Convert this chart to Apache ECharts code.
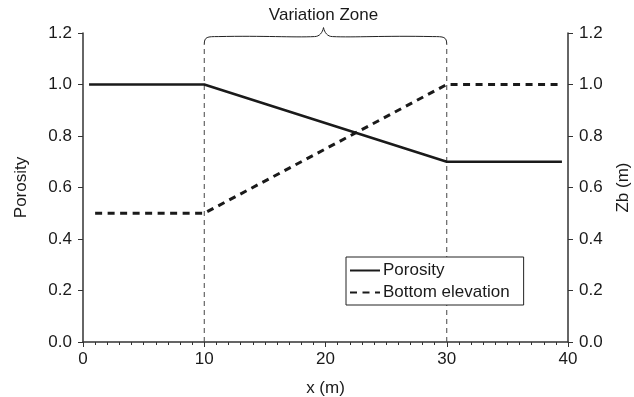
<!DOCTYPE html>
<html>
<head>
<meta charset="utf-8">
<script src="https://cdn.jsdelivr.net/npm/echarts@6/dist/echarts.min.js"></script>
<style>
  html, body { margin: 0; padding: 0; background: #fff; }
  #main { width: 634px; height: 397px; }
</style>
</head>
<body>
<div id="main"></div>
<script>
// x positions (m) and values
const porosityX = [0.5, 10, 30, 39.5]
const porosity = [1.0, 1.0, 0.7, 0.7]
const elevX = [1, 10, 30, 39.5]
const elevation = [0.5, 0.5, 1.0, 1.0]
// variation zone limits
const zoneX = [10, 30]
const zoneTop = 1.155
const yTicks = [0, 0.2, 0.4, 0.6, 0.8, 1.0, 1.2]

const font = 'Liberation Sans, Arial, sans-serif'
const ink = '#1a1a1a'

let myChart = echarts.init(document.getElementById('main'))

const yAxisBase = (pos) => ({
  type: 'value',
  position: pos,
  min: yTicks[0],
  max: yTicks[yTicks.length - 1],
  interval: 0.2,
  nameLocation: 'middle',
  nameTextStyle: { fontFamily: font, fontSize: 17, color: ink },
  axisLine: { show: true, lineStyle: { color: '#333', width: 1.5 } },
  axisTick: { show: true, inside: false, length: 5, lineStyle: { color: '#333' } },
  axisLabel: {
    fontFamily: font, fontSize: 17, color: ink, margin: 11,
    formatter: v => v.toFixed(1)
  },
  splitLine: { show: false }
})

const toPts = (xs, ys) => xs.map((x, i) => [x, ys[i]])

myChart.setOption({
  animation: false,
  grid: { left: 83, right: 66, top: 33, bottom: 55, containLabel: false, outerBoundsMode: 'none' },
  legend: {
    orient: 'vertical',
    left: 346,
    top: 257,
    z: 10,
    data: ['Porosity', 'Bottom elevation'],
    itemWidth: 30,
    itemHeight: 14,
    itemGap: 5,
    padding: [5, 14, 4, 3],
    backgroundColor: '#fff',
    borderColor: '#222',
    borderWidth: 1,
    itemStyle: { opacity: 0 },
    textStyle: { fontFamily: font, fontSize: 17, color: ink, padding: [0, 0, 0, -2] }
  },
  xAxis: {
    type: 'value',
    min: 0, max: 40, interval: 10,
    name: 'x (m)',
    nameLocation: 'middle',
    nameGap: 38,
    nameTextStyle: { fontFamily: font, fontSize: 17, color: ink },
    axisLine: { lineStyle: { color: '#333', width: 1.5 } },
    axisTick: { show: true, length: 5, lineStyle: { color: '#333' } },
    minorTick: { show: true, splitNumber: 10, length: 3, lineStyle: { color: '#333' } },
    axisLabel: { fontFamily: font, fontSize: 17, color: ink, margin: 9 },
    splitLine: { show: false }
  },
  yAxis: [
    Object.assign(yAxisBase('left'), { name: 'Porosity', nameGap: 53 }),
    Object.assign(yAxisBase('right'), { name: 'Zb (m)', nameGap: 47 })
  ],
  series: [
    {
      name: 'Porosity',
      type: 'line',
      data: toPts(porosityX, porosity),
      symbol: 'none',
      lineStyle: { color: ink, width: 2.5 },
      itemStyle: { color: ink },
      z: 5
    },
    {
      name: 'Bottom elevation',
      type: 'line',
      yAxisIndex: 1,
      data: toPts(elevX, elevation),
      symbol: 'none',
      lineStyle: { color: ink, width: 3, type: [7, 5.5] },
      itemStyle: { color: ink },
      z: 5
    },
    // zone boundaries
    ...zoneX.map(x => ({
      name: 'zone' + x,
      type: 'line',
      data: [[x, 0], [x, zoneTop]],
      symbol: 'none',
      clip: false,
      silent: true,
      lineStyle: { color: '#444', width: 1, type: [5, 4] },
      z: 2
    })),
    // curly brace and its label
    {
      name: 'brace',
      type: 'custom',
      data: [[zoneX[0], zoneX[1]]],
      clip: false,
      silent: true,
      renderItem: (params, api) => {
        const L = api.coord([api.value(0), zoneTop])
        const R = api.coord([api.value(1), zoneTop])
        const mx = (L[0] + R[0]) / 2 - 2
        const yE = L[1]
        const yM = yE - 8
        const yT = yE - 17
        const d = [
          'M', L[0], yE,
          'C', L[0], yM, L[0] + 3, yM, L[0] + 14, yM,
          'C', mx - 60, yM - 1, mx - 30, yM + 1, mx - 9, yM,
          'C', mx - 4, yM, mx - 1, yM - 4, mx, yT,
          'C', mx + 1, yM - 4, mx + 4, yM, mx + 9, yM,
          'C', mx + 30, yM + 1, mx + 60, yM - 1, R[0] - 14, yM,
          'C', R[0] - 3, yM, R[0], yM, R[0], yE
        ].join(' ')
        return {
          type: 'group',
          children: [
            {
              type: 'path',
              shape: { pathData: d },
              style: { fill: 'none', stroke: '#222', lineWidth: 1 }
            },
            {
              type: 'text',
              x: mx,
              y: yT - 12,
              style: {
                text: 'Variation Zone',
                fontFamily: font,
                fontSize: 17,
                fill: ink,
                align: 'center',
                verticalAlign: 'middle'
              }
            }
          ]
        }
      }
    }
  ]
})

window.addEventListener('resize', () => { myChart.resize() })
</script>
</body>
</html>
